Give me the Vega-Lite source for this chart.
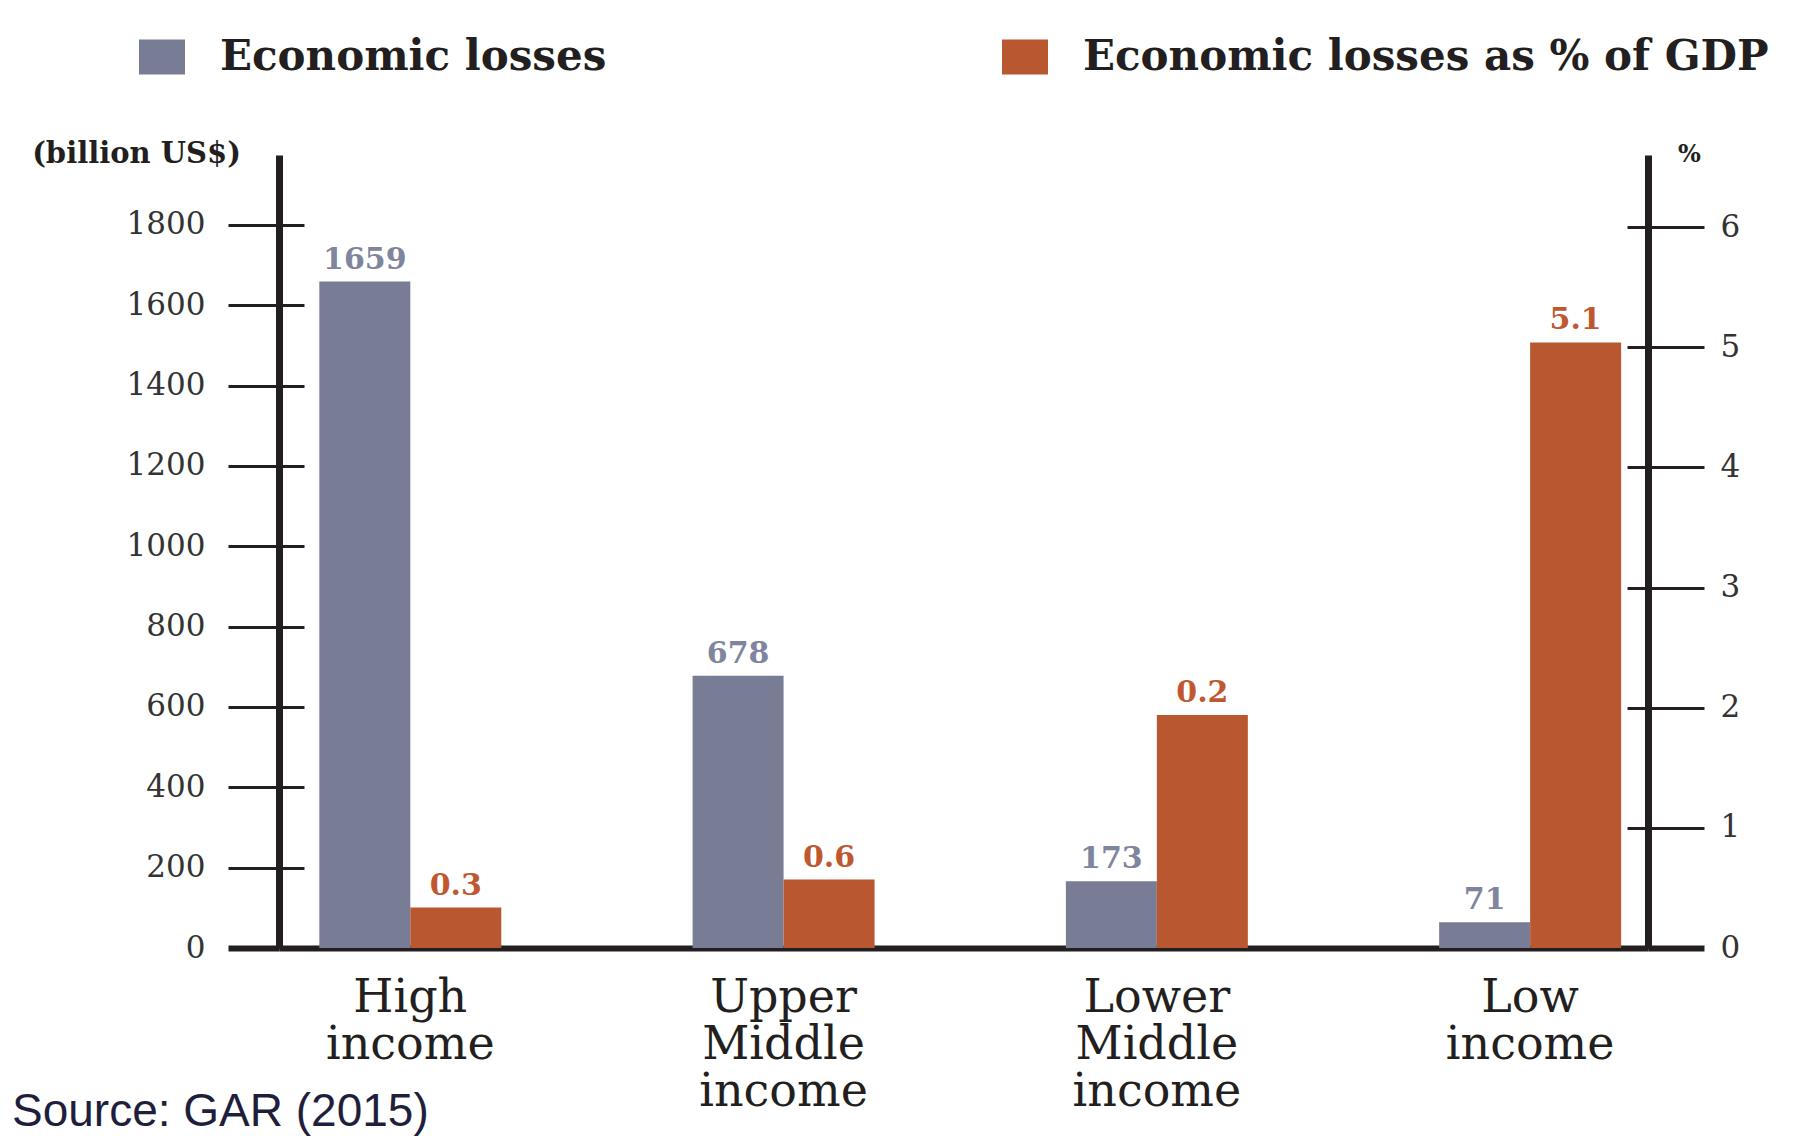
{
  "$schema": "https://vega.github.io/schema/vega-lite/v6.json",
  "width": 1369,
  "height": 793,
  "autosize": {"type": "none"},
  "padding": {"left": 279, "top": 155, "right": 169, "bottom": 192},
  "background": "white",
  "title": {
    "text": "Source: GAR (2015)",
    "orient": "bottom",
    "anchor": "start",
    "frame": "group",
    "dx": -267,
    "offset": -24,
    "font": "Liberation Sans",
    "fontSize": 46,
    "fontWeight": "normal",
    "color": "#1f1f3d"
  },
  "data": {
    "values": [
      {"group": "High income", "series": "Economic losses", "value": 1659, "label": "1659"},
      {"group": "High income", "series": "Economic losses as % of GDP", "value": 0.337, "label": "0.3"},
      {"group": "Upper Middle income", "series": "Economic losses", "value": 678, "label": "678"},
      {"group": "Upper Middle income", "series": "Economic losses as % of GDP", "value": 0.57, "label": "0.6"},
      {"group": "Lower Middle income", "series": "Economic losses", "value": 166, "label": "173"},
      {"group": "Lower Middle income", "series": "Economic losses as % of GDP", "value": 1.94, "label": "0.2"},
      {"group": "Low income", "series": "Economic losses", "value": 64, "label": "71"},
      {"group": "Low income", "series": "Economic losses as % of GDP", "value": 5.04, "label": "5.1"}
    ]
  },
  "encoding": {
    "x": {
      "field": "group",
      "type": "nominal",
      "sort": ["High income", "Upper Middle income", "Lower Middle income", "Low income"],
      "scale": {"paddingInner": 0.5125, "paddingOuter": 0.09, "align": 0.6},
      "axis": {
        "title": null,
        "ticks": false,
        "domain": true,
        "domainColor": "#231f20",
        "domainWidth": 6,
        "labelAngle": 0,
        "labelExpr": "split(datum.label, ' ')",
        "labelFont": "DejaVu Serif",
        "labelFontSize": 46,
        "labelLineHeight": 47,
        "labelColor": "#231f20",
        "labelPadding": 27,
        "labelLimit": 1000
      }
    },
    "xOffset": {
      "field": "series",
      "type": "nominal",
      "sort": ["Economic losses", "Economic losses as % of GDP"],
      "scale": {"domain": ["Economic losses", "Economic losses as % of GDP"], "paddingInner": 0, "paddingOuter": 0}
    }
  },
  "layer": [
    {
      "transform": [{"filter": "datum.series === 'Economic losses'"}],
      "layer": [
        {
          "mark": {"type": "bar"},
          "encoding": {
            "y": {
              "field": "value",
              "type": "quantitative",
              "scale": {"domain": [0, 1974], "nice": false, "zero": true},
              "axis": {
                "orient": "left",
                "values": [0, 200, 400, 600, 800, 1000, 1200, 1400, 1600, 1800],
                "format": "d",
                "title": "(billion US$)",
                "titleAngle": 0,
                "titleAlign": "center",
                "titleBaseline": "middle",
                "titleX": -143,
                "titleY": -2,
                "titleFont": "DejaVu Serif",
                "titleFontSize": 29,
                "titleFontWeight": "bold",
                "titleColor": "#231f20",
                "domainColor": "#231f20",
                "domainWidth": 7,
                "tickColor": "#231f20",
                "tickSize": 51,
                "tickWidth": {"condition": {"test": "datum.value === 0", "value": 6}, "value": 3},
                "grid": true,
                "gridColor": "#231f20",
                "gridWidth": 3,
                "gridDash": [25, 4000],
                "labelFont": "DejaVu Serif",
                "labelFontSize": 31,
                "labelColor": "#333333",
                "labelPadding": 23
              }
            },
            "color": {
              "field": "series",
              "type": "nominal",
              "scale": {"domain": ["Economic losses", "Economic losses as % of GDP"], "range": ["#787d95", "#b85730"]},
              "legend": {
                "title": null,
                "orient": "none",
                "legendX": -140,
                "legendY": -121,
                "direction": "horizontal",
                "symbolType": "M-1,-0.76H1V0.76H-1Z",
                "symbolSize": 2116,
                "symbolStrokeWidth": 0,
                "symbolOpacity": 1,
                "labelFont": "DejaVu Serif",
                "labelFontSize": 42,
                "labelFontWeight": "bold",
                "labelColor": "#231f20",
                "labelOffset": 35,
                "columnPadding": 395,
                "labelLimit": 1000,
                "padding": 0
              }
            }
          }
        },
        {
          "mark": {"type": "text", "baseline": "alphabetic", "dy": -13, "font": "DejaVu Serif", "fontSize": 30, "fontWeight": "bold", "color": "#80859e"},
          "encoding": {
            "y": {"field": "value", "type": "quantitative", "scale": {"domain": [0, 1974], "nice": false, "zero": true}},
            "text": {"field": "label"}
          }
        }
      ]
    },
    {
      "transform": [{"filter": "datum.series === 'Economic losses as % of GDP'"}],
      "layer": [
        {
          "mark": {"type": "bar"},
          "encoding": {
            "y": {
              "field": "value",
              "type": "quantitative",
              "scale": {"domain": [0, 6.6], "nice": false, "zero": true},
              "axis": {
                "orient": "right",
                "values": [0, 1, 2, 3, 4, 5, 6],
                "format": "d",
                "title": "%",
                "titleAngle": 0,
                "titleAlign": "center",
                "titleBaseline": "middle",
                "titleX": 41,
                "titleY": -1,
                "titleFont": "DejaVu Serif",
                "titleFontSize": 24,
                "titleFontWeight": "bold",
                "titleColor": "#231f20",
                "domainColor": "#231f20",
                "domainWidth": 7,
                "tickColor": "#231f20",
                "tickSize": 56,
                "tickWidth": {"condition": {"test": "datum.value === 0", "value": 6}, "value": 3},
                "grid": true,
                "gridColor": "#231f20",
                "gridWidth": 3,
                "gridDash": [21, 4000],
                "labelFont": "DejaVu Serif",
                "labelFontSize": 31,
                "labelColor": "#333333",
                "labelPadding": 16
              }
            },
            "color": {
              "field": "series",
              "type": "nominal",
              "scale": {"domain": ["Economic losses", "Economic losses as % of GDP"], "range": ["#787d95", "#b85730"]}
            }
          }
        },
        {
          "mark": {"type": "text", "baseline": "alphabetic", "dy": -13, "font": "DejaVu Serif", "fontSize": 30, "fontWeight": "bold", "color": "#c0582f"},
          "encoding": {
            "y": {"field": "value", "type": "quantitative", "scale": {"domain": [0, 6.6], "nice": false, "zero": true}},
            "text": {"field": "label"}
          }
        }
      ]
    }
  ],
  "resolve": {"scale": {"y": "independent"}, "axis": {"y": "independent"}},
  "config": {
    "view": {"stroke": null},
    "font": "DejaVu Serif"
  }
}
